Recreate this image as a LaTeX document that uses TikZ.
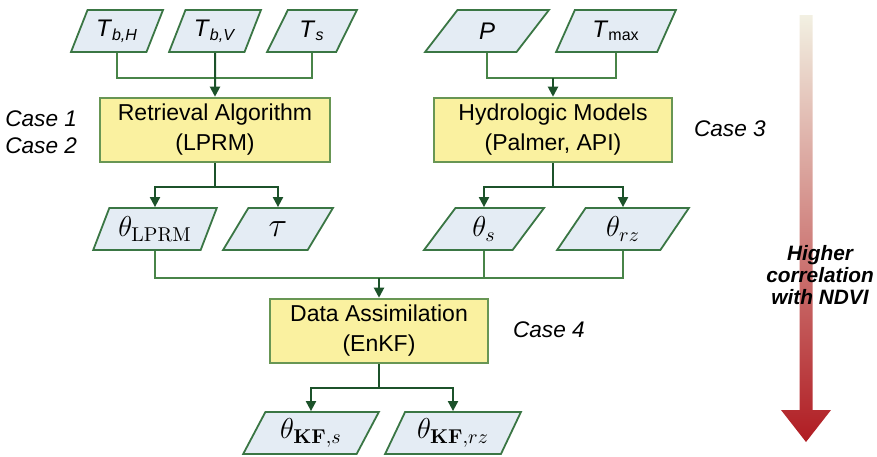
\documentclass[tikz,border=0pt]{standalone}
\usepackage[no-math]{fontspec}
\setmainfont{Liberation Sans}
\usetikzlibrary{shapes.geometric,arrows.meta}
\definecolor{lineg}{RGB}{72,132,72}
\definecolor{darkg}{RGB}{28,82,42}
\definecolor{paraf}{RGB}{228,236,244}
\definecolor{parad}{RGB}{58,118,68}
\definecolor{boxf}{RGB}{250,241,160}
\definecolor{boxd}{RGB}{104,150,84}
\definecolor{barred}{RGB}{176,28,34}
\definecolor{barmid}{RGB}{224,166,162}
\definecolor{bartop}{RGB}{242,240,226}
\tikzset{
  data/.style={trapezium, trapezium left angle=62, trapezium right angle=118,
    trapezium stretches=true, draw=parad, fill=paraf, line width=0.9pt,
    minimum height=21pt, inner sep=0pt, font=\fontsize{12}{14}\selectfont},
  sym/.style={font=\fontsize{14}{16}\selectfont},
  proc/.style={rectangle, draw=boxd, fill=boxf, line width=0.9pt,
    minimum height=31pt, align=center, font=\fontsize{11.5}{15}\selectfont},
  link/.style={draw=lineg, line width=0.9pt},
  feed/.style={draw=darkg, line width=1pt},
  tip/.style={-{Triangle[width=5pt,length=5pt]}},
  case/.style={font=\fontsize{11.3}{13.5}\selectfont\itshape}
}
\begin{document}
\begin{tikzpicture}[x=0.5pt,y=-0.5pt]
\useasboundingbox (0,0) rectangle (877,456);
% inputs
\node[data, minimum width=46pt] (tbh) at (117,31) {\textit{T}\textsubscript{\textit{b,H}}};
\node[data, minimum width=46pt] (tbv) at (215,31) {\textit{T}\textsubscript{\textit{b,V}}};
\node[data, minimum width=45pt] (ts) at (312,31) {\textit{T}\textsubscript{\textit{s}}};
\node[data, minimum width=62pt] (p) at (487,31) {\textit{P}};
\node[data, minimum width=60pt] (tmax) at (616,31) {\textit{T}\textsubscript{max}};
% models
\node[proc, minimum width=115pt] (retr) at (215,130) {Retrieval Algorithm\\(LPRM)};
\node[proc, minimum width=119pt] (hydro) at (553,130) {Hydrologic Models\\(Palmer, API)};
\node[case, anchor=east, align=right] (case12) at (84,132) {Case 1\\Case 2};
\node[case, anchor=west] (case3) at (687,129) {Case 3};
% outputs
\node[data, sym, minimum width=62pt] (thlprm) at (155,229) {$\theta_{\mathrm{LPRM}}$};
\node[data, sym, minimum width=55pt] (tau) at (278,229) {\fontsize{17}{18}\selectfont$\tau$};
\node[data, sym, minimum width=60pt] (ths) at (484,229) {$\theta_s$};
\node[data, sym, minimum width=66pt] (thrz) at (623,229) {$\theta_{rz}$};
% assimilation
\node[proc, minimum width=109pt] (da) at (379,331) {Data Assimilation\\(EnKF)};
\node[case, anchor=west] (case4) at (506,330) {Case 4};
\node[data, sym, minimum width=68pt] (thkfs) at (311,433) {$\theta_{\mathbf{KF},s}$};
\node[data, sym, minimum width=68pt] (thkfrz) at (453,433) {$\theta_{\mathbf{KF},rz}$};
% joins
\coordinate (j1) at (215,78);
\coordinate (j2) at (553,78);
\coordinate (j3) at (215,187);
\coordinate (j4) at (553,187);
\coordinate (j5) at (379,278);
\coordinate (j6) at (379,388);
\draw[link] (tbh) |- (j1) -| (ts);
\draw[feed,tip] (tbv) -- (retr);
\draw[link] (p) |- (j2) -| (tmax);
\draw[feed,tip] (j2) -- (hydro);
\draw[feed] (retr) -- (j3);
\draw[feed,tip] (j3) -| (thlprm);
\draw[feed,tip] (j3) -| (tau);
\draw[feed] (hydro) -- (j4);
\draw[feed,tip] (j4) -| (ths);
\draw[feed,tip] (j4) -| (thrz);
\draw[link] (thlprm) |- (j5) -| (thrz);
\draw[link] (ths) |- (j5);
\draw[feed,tip] (j5) -- (da);
\draw[feed] (da) -- (j6);
\draw[feed,tip] (j6) -| (thkfs);
\draw[feed,tip] (j6) -| (thkfrz);
% trend bar
\shade[top color=bartop, middle color=barmid, bottom color=barred] (799.5,15) -- (812.5,15) -- (812.5,410)
  -- (831,410) -- (806,442) -- (781,410) -- (799.5,410) -- cycle;
\node[font=\fontsize{10.4}{11.2}\selectfont\bfseries\itshape, align=center] (corr) at (820,275)
  {Higher\\correlation\\with NDVI};
\end{tikzpicture}
\end{document}
